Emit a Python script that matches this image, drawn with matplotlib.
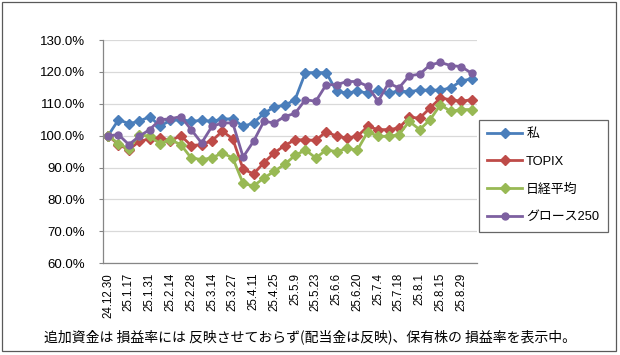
import matplotlib
matplotlib.use("Agg")
import matplotlib.pyplot as plt
from matplotlib.patches import Rectangle
from matplotlib.ticker import FuncFormatter

plt.rcParams['font.family'] = ['Liberation Sans', 'Noto Sans CJK JP', 'DejaVu Sans']

# weekly dates (every other one is labelled on the axis)
dates = ["24.12.30", "25.1.10", "25.1.17", "25.1.24", "25.1.31", "25.2.7",
         "25.2.14", "25.2.21", "25.2.28", "25.3.7", "25.3.14", "25.3.21",
         "25.3.27", "25.4.4", "25.4.11", "25.4.18", "25.4.25", "25.5.2",
         "25.5.9", "25.5.16", "25.5.23", "25.5.30", "25.6.6", "25.6.13",
         "25.6.20", "25.6.27", "25.7.4", "25.7.11", "25.7.18", "25.7.25",
         "25.8.1", "25.8.8", "25.8.15", "25.8.22", "25.8.29", "25.9.5"]

# values in %
me = [100, 105, 103.8, 104.5, 106, 103, 104.8, 105, 104.5, 104.8,
      104.5, 105.2, 105.3, 102.9, 104, 107, 109, 109.5, 111.3, 119.8,
      119.8, 119.8, 113.9, 113.4, 113.9, 113.4, 114.2, 113.4, 114, 113.8,
      114.3, 114.3, 114.3, 115, 117.2, 117.8]
topix = [100, 97.2, 95.6, 98.2, 99, 99.4, 98.4, 100, 96.9, 97.2,
         98.4, 101.4, 99, 89.5, 88, 91.5, 94.6, 96.9, 98.7, 98.7,
         98.5, 101.3, 99.8, 99.3, 99.8, 102.9, 101.9, 101.9, 102.4, 105.8,
         105.5, 108.7, 111.8, 111.3, 110.8, 111.3]
nikkei = [100, 97.5, 95.8, 100.3, 99.8, 97.5, 98.7, 97.2, 93, 92.5,
          93, 94.6, 93, 85, 84.2, 86.7, 88.8, 91, 93.8, 95.5,
          93, 95.5, 95, 96, 95.5, 101.2, 99.8, 99.8, 100.3, 104.5,
          101.9, 105, 109.7, 107.6, 108.2, 108.2]
growth = [100, 100.3, 97.2, 99.8, 101.9, 105, 105.3, 106, 101.9, 97.7,
          102.9, 104, 104, 93.3, 98.2, 104.5, 104, 106, 107, 111.3,
          110.8, 116, 116, 117, 117, 115.5, 110.8, 116.5, 115, 118.8,
          119.3, 122.2, 123, 122, 121.7, 119.6]

series = [
    ("私", me, "#4A7EBB", "D", 5.5),
    ("TOPIX", topix, "#BE4B48", "D", 5.5),
    ("日経平均", nikkei, "#98B954", "D", 5.5),
    ("グロース250", growth, "#7D60A0", "o", 5.0),
]

fig = plt.figure(figsize=(6.2, 3.55), dpi=100)
ax = fig.add_axes([0.166, 0.259, 0.603, 0.628])

x = list(range(len(dates)))
for name, vals, color, mk, ms in series:
    ax.plot(x, vals, color=color, lw=2.0, marker=mk, markersize=ms,
            markeredgecolor=color, label=name)

ax.set_ylim(60, 130)
ax.set_yticks(range(60, 131, 10))
ax.yaxis.set_major_formatter(FuncFormatter(lambda v, p: f"{v:.1f}%"))
ax.set_xlim(-0.5, len(dates) - 0.5)
ax.set_xticks(x[::2])
ax.set_xticklabels(dates[::2], rotation=90, fontsize=8.3)
ax.tick_params(axis='x', length=0, pad=7)
ax.tick_params(axis='y', length=3, color="#868686", labelsize=9.5, pad=10)

ax.grid(axis='y', color="#D9D9D9", lw=0.9)
ax.set_axisbelow(True)
for s in ["top", "right"]:
    ax.spines[s].set_visible(False)
for s in ["left", "bottom"]:
    ax.spines[s].set_color("#868686")
    ax.spines[s].set_linewidth(0.9)

leg = ax.legend(loc="upper left", bbox_to_anchor=(0.7726, 0.662),
                bbox_transform=fig.transFigure, borderaxespad=0,
                fontsize=9.3, frameon=True, fancybox=False,
                handlelength=2.7, handletextpad=0.3, labelspacing=1.2,
                borderpad=0.65)
leg.get_frame().set_edgecolor("#404040")
leg.get_frame().set_linewidth(0.9)

fig.text(0.5, 0.051, "追加資金は 損益率には 反映させておらず(配当金は反映)、保有株の 損益率を表示中。",
         ha="center", va="center", fontsize=10,
         family=['Noto Sans CJK JP', 'DejaVu Sans'])

fig.patches.append(Rectangle((0.004, 0.01), 0.99, 0.983, transform=fig.transFigure,
                             fill=False, edgecolor="#595959", lw=0.9))

fig.savefig("out.png", dpi=100)
